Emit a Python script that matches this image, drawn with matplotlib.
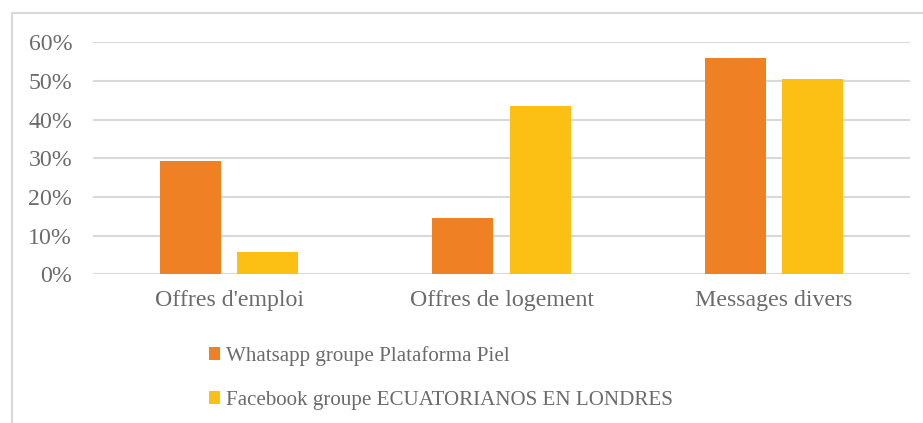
import matplotlib.pyplot as plt
import numpy as np
from matplotlib.patches import Rectangle
from matplotlib.ticker import FuncFormatter

categories = ["Offres d'emploi", "Offres de logement", "Messages divers"]
whatsapp = [0.292, 0.146, 0.559]
facebook = [0.057, 0.435, 0.506]
series_names = ["Whatsapp groupe Plataforma Piel",
                "Facebook groupe ECUATORIANOS EN LONDRES"]

orange = '#f08024'
yellow = '#fcc014'
grey_text = '#6b6b6b'
grid_grey = '#d9d9d9'

plt.rcParams['font.family'] = ['Liberation Serif', 'DejaVu Serif']

fig = plt.figure(figsize=(9.23, 4.23), dpi=100)
W, H = 923, 423

# outer chart border (right and bottom edges run off the canvas)
fig.patches.append(Rectangle((12 / W, -0.05), 1.0, 1.05 - 13 / H,
                             transform=fig.transFigure, fill=False,
                             edgecolor=grid_grey, linewidth=1.5))

ax = fig.add_axes([93 / W, 1 - 274.3 / H, (910 - 93) / W, (274.3 - 42.3) / H])

x = np.arange(len(categories))
width = 0.224
offset = 0.142
b1 = ax.bar(x - offset, whatsapp, width, color=orange, zorder=3,
            label=series_names[0])
b2 = ax.bar(x + offset, facebook, width, color=yellow, zorder=3,
            label=series_names[1])

ax.set_xlim(-0.5, 2.5)
ax.set_ylim(0, 0.6)
ax.set_yticks(np.arange(0, 0.61, 0.1))
ax.yaxis.set_major_formatter(FuncFormatter(lambda v, p: f'{v * 100:.0f}%'))
ax.set_xticks(x)
ax.set_xticklabels(categories)

ax.grid(axis='y', color=grid_grey, linewidth=1.5, zorder=0)
ax.set_axisbelow(True)
for s in ax.spines.values():
    s.set_visible(False)
ax.tick_params(axis='both', length=0, labelsize=17.2, colors=grey_text)
ax.tick_params(axis='y', pad=15)
ax.tick_params(axis='x', pad=11)

leg = fig.legend(handles=[b1, b2], loc='upper left',
                 bbox_to_anchor=(190 / W, 1 - 327 / H), frameon=False,
                 fontsize=15.1, handlelength=0.55, handleheight=0.55,
                 handletextpad=0.25, labelspacing=1.2)
for t in leg.get_texts():
    t.set_color(grey_text)

fig.savefig('out.png', dpi=100)
